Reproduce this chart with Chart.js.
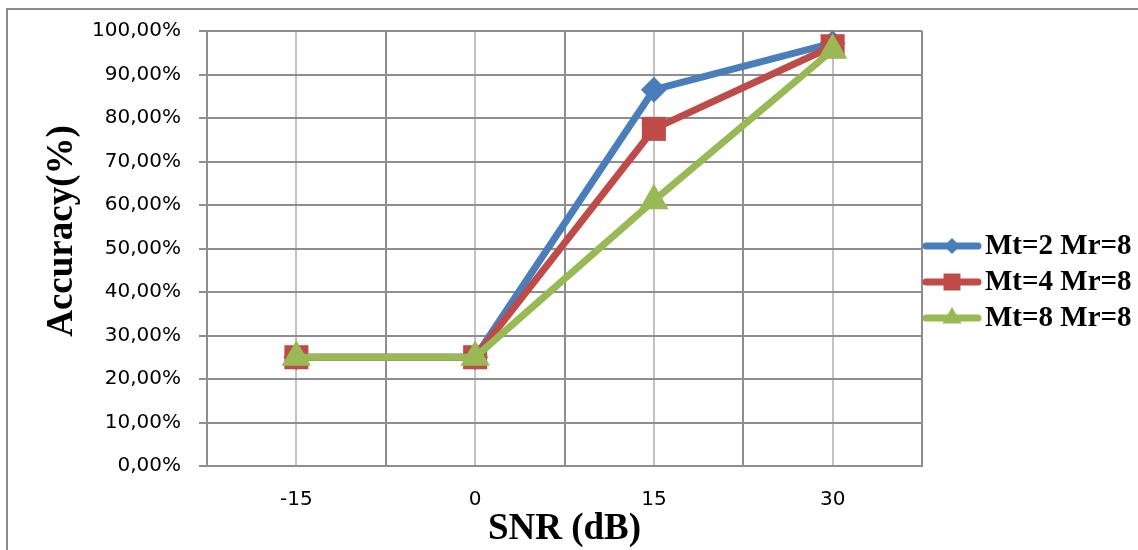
<!DOCTYPE html>
<html>
<head>
<meta charset="utf-8">
<script src="https://cdn.jsdelivr.net/npm/chart.js@4"></script>
<style>
  html, body { margin: 0; padding: 0; background: #fff; }
  #wrap { width: 1138px; height: 550px; position: relative; }
</style>
</head>
<body>
<div id="wrap"><canvas id="c" width="1138" height="550"></canvas></div>
<script>
// ---- data ----
const snrValues = [-15, 0, 15, 30];
const xTickLabels = ['-15', '0', '15', '30'];
const seriesNames = ['Mt=2 Mr=8', 'Mt=4 Mr=8', 'Mt=8 Mr=8'];
const mt2 = [25, 25, 86.5, 97.2];
const mt4 = [25, 25, 77.5, 96.5];
const mt8 = [25, 25, 61, 95.6];
const yTitle = 'Accuracy(%)';
const xTitle = 'SNR (dB)';

const colors = ['#4A7EBB', '#BE4B48', '#98B954'];
const styles = ['rectRot', 'rect', 'triangle'];
const radii = [13, 17, 17];
const legendRadii = [8, 12, 11];
const allSeries = [mt2, mt4, mt8];

const GRID_DARK = '#8e8e8e';
const GRID_LIGHT = '#c3c3c3';

const datasets = allSeries.map((vals, i) => ({
  label: seriesNames[i],
  data: snrValues.map((x, k) => ({ x: x, y: vals[k] })),
  borderColor: colors[i],
  backgroundColor: colors[i],
  borderWidth: 7,
  borderJoinStyle: 'round',
  borderCapStyle: 'round',
  pointStyle: styles[i],
  pointRadius: radii[i],
  pointHoverRadius: radii[i],
  pointBorderWidth: 0,
  pointBackgroundColor: colors[i],
  order: 2 - i,
  tension: 0,
  fill: false
}));

const decor = {
  id: 'decor',
  beforeDraw(chart) {
    const ctx = chart.ctx;
    ctx.save();
    ctx.fillStyle = '#fff';
    ctx.fillRect(0, 0, chart.width, chart.height);
    ctx.strokeStyle = '#8a8a8a';
    ctx.lineWidth = 2;
    ctx.beginPath();
    ctx.moveTo(7, chart.height + 2);
    ctx.lineTo(7, 9);
    ctx.lineTo(chart.width + 2, 9);
    ctx.stroke();
    ctx.restore();
  },
  afterDraw(chart) {
    const ctx = chart.ctx;
    const area = chart.chartArea;
    ctx.save();
    // axis titles
    ctx.fillStyle = '#000';
    ctx.font = 'bold 37px "Liberation Serif", "Times New Roman", serif';
    ctx.textAlign = 'center';
    ctx.textBaseline = 'middle';
    ctx.save();
    ctx.translate(62, 231);
    ctx.rotate(-Math.PI / 2);
    ctx.fillText(yTitle, 0, 0);
    ctx.restore();
    ctx.fillText(xTitle, (area.left + area.right) / 2, 529);
    // legend
    const ys = [246, 282, 318];
    chart.data.datasets.forEach((ds, i) => {
      const y = ys[i];
      ctx.strokeStyle = ds.borderColor;
      ctx.lineWidth = 7;
      ctx.lineCap = 'round';
      ctx.beginPath();
      ctx.moveTo(926, y);
      ctx.lineTo(978, y);
      ctx.stroke();
      ctx.fillStyle = ds.borderColor;
      ctx.strokeStyle = ds.borderColor;
      Chart.helpers.drawPoint(ctx, {
        pointStyle: ds.pointStyle,
        radius: legendRadii[i],
        rotation: 0,
        borderWidth: 0
      }, 952, y);
      ctx.fillStyle = '#000';
      ctx.font = 'bold 29px "Liberation Serif", "Times New Roman", serif';
      ctx.textAlign = 'left';
      ctx.textBaseline = 'middle';
      ctx.fillText(ds.label, 985, y + 1);
    });
    ctx.restore();
  }
};

new Chart(document.getElementById('c'), {
  type: 'line',
  data: { datasets: datasets },
  plugins: [decor],
  options: {
    responsive: false,
    animation: false,
    events: [],
    layout: { padding: { left: 0, top: 31, right: 216, bottom: 0 } },
    plugins: { legend: { display: false }, tooltip: { enabled: false } },
    scales: {
      x: {
        type: 'linear',
        min: -22.5,
        max: 37.5,
        afterFit: (s) => { s.height = 84; },
        ticks: {
          stepSize: 7.5,
          autoSkip: false,
          maxRotation: 0,
          padding: 22,
          color: '#000',
          font: { family: '"DejaVu Sans", sans-serif', size: 20 },
          callback: (v) => {
            const i = snrValues.indexOf(v);
            return i >= 0 ? xTickLabels[i] : '';
          }
        },
        grid: {
          drawTicks: false,
          lineWidth: 2,
          color: (c) => (c.tick && snrValues.includes(c.tick.value)) ? GRID_LIGHT : GRID_DARK
        },
        border: { color: GRID_DARK, width: 2 }
      },
      y: {
        type: 'linear',
        min: 0,
        max: 100,
        afterFit: (s) => { s.width = 207; },
        ticks: {
          stepSize: 10,
          padding: 18,
          color: '#000',
          font: { family: '"DejaVu Sans", sans-serif', size: 20 },
          callback: (v) => v.toFixed(2).replace('.', ',') + '%'
        },
        grid: { color: GRID_DARK, lineWidth: 2, tickLength: 8, drawTicks: true },
        border: { color: GRID_DARK, width: 2 }
      }
    }
  }
});
</script>
</body>
</html>
